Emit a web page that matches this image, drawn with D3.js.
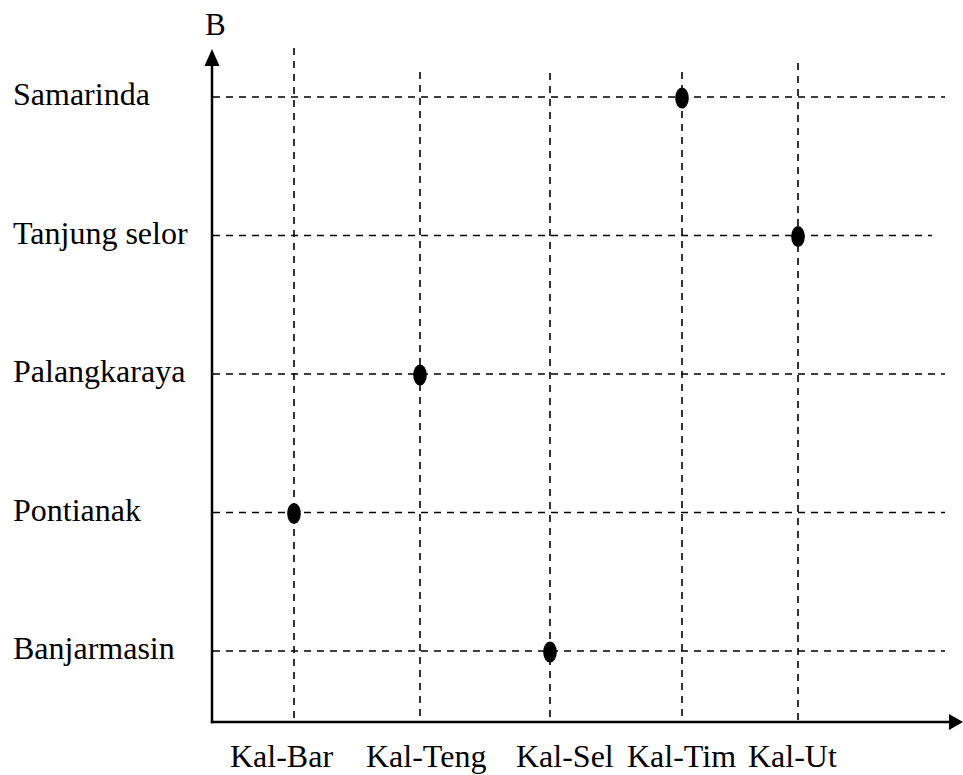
<!DOCTYPE html>
<html>
<head>
<meta charset="utf-8">
<script src="https://cdn.jsdelivr.net/npm/d3@7"></script>
<style>
  html, body { margin: 0; padding: 0; background: #fff; }
  svg { display: block; }
  text { font-family: "Liberation Serif", "Times New Roman", serif; fill: #000; }
</style>
</head>
<body>
<svg id="chart" width="963" height="775"></svg>
<script>
// ---- data ----
const provinces = ["Kal-Bar", "Kal-Teng", "Kal-Sel", "Kal-Tim", "Kal-Ut"];
const capitals = ["Banjarmasin", "Pontianak", "Palangkaraya", "Tanjung selor", "Samarinda"];
const pointProvince = ["Kal-Bar", "Kal-Teng", "Kal-Sel", "Kal-Tim", "Kal-Ut"];
const pointCapital = ["Pontianak", "Palangkaraya", "Banjarmasin", "Samarinda", "Tanjung selor"];
const yAxisTitle = "B";

// ---- layout ----
const axisX = 212, axisY = 722;
const fontSize = 32;
const gridTop = { "Kal-Bar": 48, "Kal-Teng": 72, "Kal-Sel": 73, "Kal-Tim": 72, "Kal-Ut": 63 };
const gridRight = { "Banjarmasin": 945, "Pontianak": 945, "Palangkaraya": 945, "Tanjung selor": 932, "Samarinda": 945 };
const xLabelStarts = d3.scaleOrdinal().domain(provinces).range([230, 366, 516, 627, 748]);

const x = d3.scaleOrdinal().domain(provinces).range([294, 420, 550, 682, 798]);
const y = d3.scalePoint().domain(capitals).range([651, 97]);

const svg = d3.select("#chart");
const dash = "7,6";

// horizontal dashed grid lines
svg.append("g").selectAll("line").data(capitals).join("line")
  .attr("x1", axisX + 1).attr("x2", d => gridRight[d])
  .attr("y1", d => y(d)).attr("y2", d => y(d))
  .attr("stroke", "#000").attr("stroke-width", 1.6).attr("stroke-dasharray", dash);

// vertical dashed grid lines
svg.append("g").selectAll("line").data(provinces).join("line")
  .attr("x1", d => x(d)).attr("x2", d => x(d))
  .attr("y1", d => gridTop[d]).attr("y2", axisY)
  .attr("stroke", "#000").attr("stroke-width", 1.6).attr("stroke-dasharray", dash);

// axes
svg.append("line").attr("x1", axisX).attr("x2", axisX).attr("y1", axisY + 1.2).attr("y2", 64)
  .attr("stroke", "#000").attr("stroke-width", 2.5);
svg.append("path").attr("d", `M${axisX},49 L${axisX - 7.5},66 L${axisX + 7.5},66 Z`).attr("fill", "#000");
svg.append("line").attr("x1", axisX - 1.2).attr("x2", 951).attr("y1", axisY).attr("y2", axisY)
  .attr("stroke", "#000").attr("stroke-width", 2.5);
svg.append("path").attr("d", `M963,${axisY} L949,${axisY - 8} L949,${axisY + 8} Z`).attr("fill", "#000");

// y-axis title
svg.append("text").attr("x", 205).attr("y", 35).attr("font-size", 31).text(yAxisTitle);

// y labels
svg.append("g").selectAll("text").data(capitals).join("text")
  .attr("x", 13).attr("y", d => y(d) + 8).attr("font-size", fontSize).text(d => d);

// x labels
svg.append("g").selectAll("text").data(provinces).join("text")
  .attr("x", d => xLabelStarts(d)).attr("y", 767).attr("font-size", fontSize).text(d => d);

// points
svg.append("g").selectAll("ellipse").data(pointProvince).join("ellipse")
  .attr("cx", d => x(d)).attr("cy", (d, i) => y(pointCapital[i]) + 1)
  .attr("rx", 6.8).attr("ry", 10.5).attr("fill", "#000");
</script>
</body>
</html>
